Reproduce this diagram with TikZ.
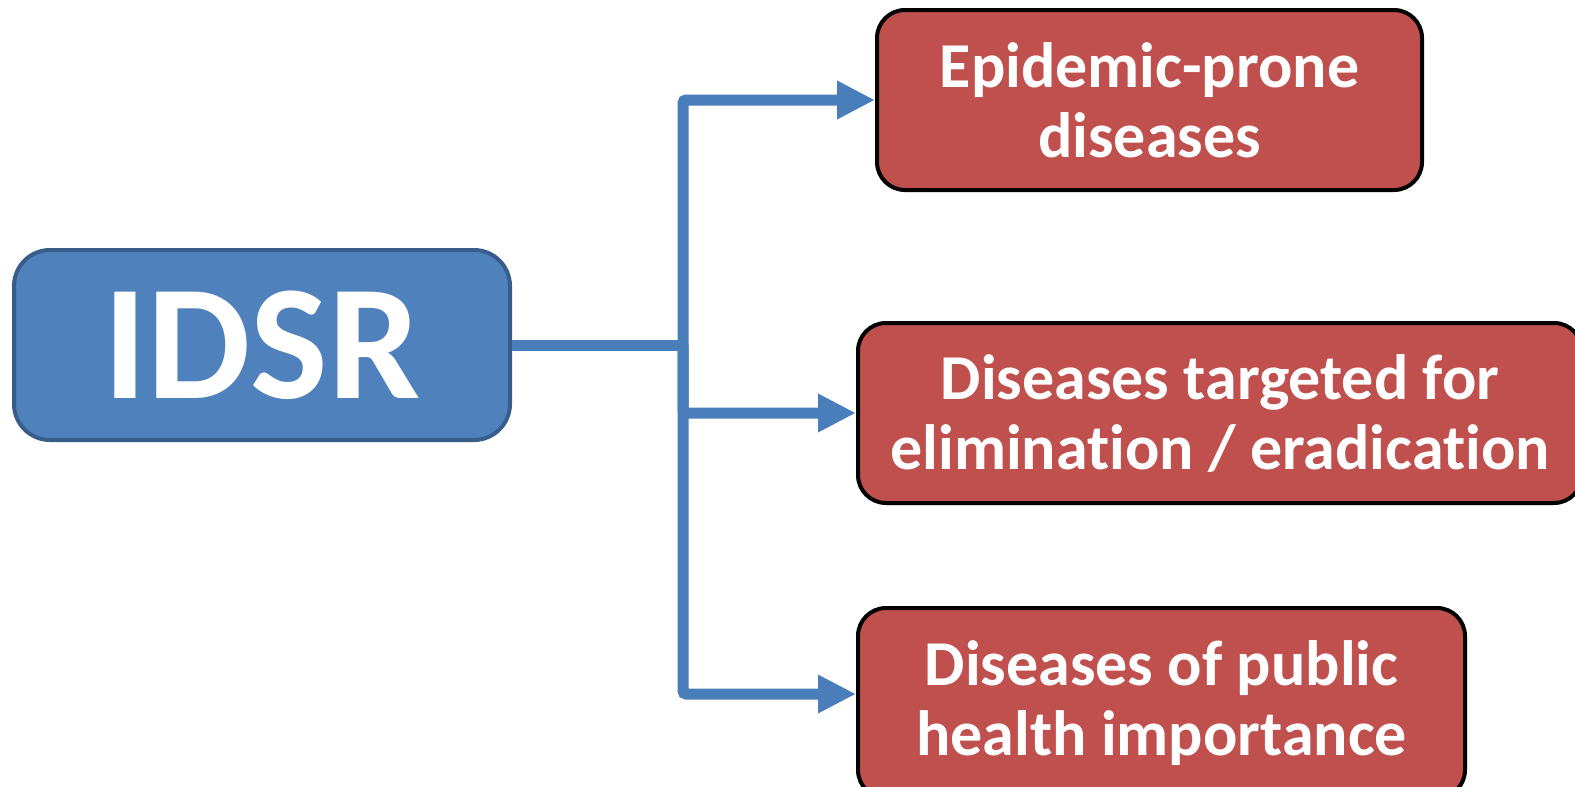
\documentclass[tikz,border=0pt]{standalone}
\usepackage{fontspec}
\setmainfont{Carlito}[Ligatures={NoCommon}]
\usetikzlibrary{arrows.meta}
\definecolor{idsrfill}{HTML}{4F81BD}
\definecolor{idsrline}{HTML}{385D8A}
\definecolor{redfill}{HTML}{C0504D}
\definecolor{arrowblue}{HTML}{4A7EBB}
\tikzset{
  catbox/.style={draw=black, line width=4pt, fill=redfill, rounded corners=28pt,
    text=white, font=\bfseries\fontsize{64}{70}\selectfont, align=center,
    inner sep=0pt},
  mainbox/.style={draw=idsrline, line width=4pt, fill=idsrfill, rounded corners=36pt,
    text=white, font=\bfseries\fontsize{164}{170}\selectfont, inner sep=0pt,
    minimum width=496pt, minimum height=190pt},
  branch/.style={draw=arrowblue, line width=11pt, rounded corners=3pt, -{Triangle[length=38pt,width=36pt]}},
  trunk/.style={draw=arrowblue, line width=11pt}
}
\begin{document}
\begin{tikzpicture}[x=1pt,y=-1pt]
\useasboundingbox (0,0) rectangle (1575,787);
\begin{scope}
\clip (0,0) rectangle (1575,787);
\node[mainbox] (idsr) at (262,345) {\raisebox{-5pt}{IDSR}};
\node[catbox, minimum width=545pt, minimum height=180pt] (b1) at (1149.5,100) {Epidemic-prone\\diseases};
\node[catbox, minimum width=724pt, minimum height=180pt] (b2) at (1220,413) {Diseases targeted for\\elimination / eradication};
\node[catbox, minimum width=607pt, minimum height=190pt] (b3) at (1161.5,703) {Diseases of public\\health importance};
\coordinate (j) at (683,345);
\draw[trunk] (idsr.east) -- (j);
\draw[branch] (j) |- (b1.west);
\draw[branch] (j) |- (b2.west);
\draw[branch] (j) |- ([yshift=9pt]b3.west);
\end{scope}
\end{tikzpicture}
\end{document}
